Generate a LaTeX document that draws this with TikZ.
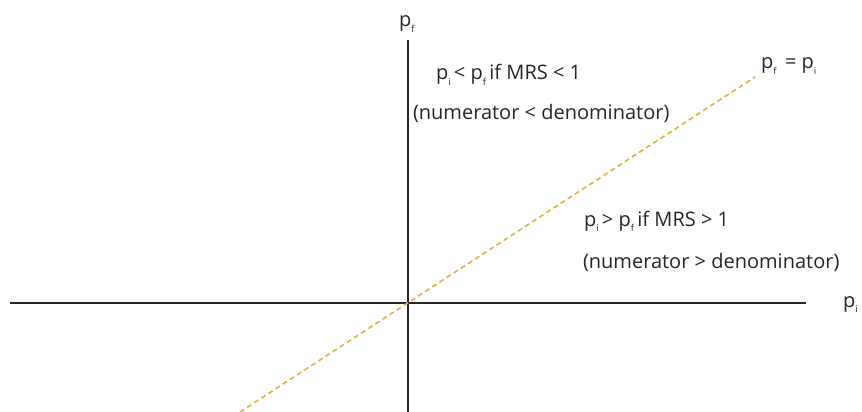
\documentclass[tikz,border=0pt]{standalone}
\usepackage{fontspec}
\setmainfont{Open Sans}
\newcommand{\sbt}[1]{\raisebox{-0.55ex}{\fontsize{9.5}{9.5}\selectfont #1}}
\definecolor{axisc}{HTML}{262626}
\definecolor{diagc}{HTML}{E6B23C}
\begin{document}
\begin{tikzpicture}[x=1pt,y=-1pt,
  axis/.style={draw=axisc,line width=1.5pt},
  diag/.style={draw=diagc,line width=1.6pt,dash pattern=on 5pt off 3.5pt},
  lbl/.style={inner sep=0pt,outer sep=0pt,anchor=base west,font=\fontsize{20}{22}\selectfont,text=axisc}]
\useasboundingbox (0,0) rectangle (862,412);
\coordinate (xl) at (10,303);
\coordinate (xr) at (806,303);
\coordinate (yt) at (408,40);
\coordinate (yb) at (408,412);
\coordinate (dl) at (240,412);
\coordinate (dr) at (755,77);
\draw[axis] (xl) -- (xr);
\draw[axis] (yt) -- (yb);
\draw[diag] (dl) -- (dr);
\node[lbl] (pf) at (399,27) {p\sbt{f}};
\node[lbl] (pi) at (843,307) {p\sbt{i}};
\node[lbl] (eq) at (761,69) {p\sbt{f}\ \,= p\sbt{i}};
\node[lbl] (l1) at (436,80) {p\sbt{i}\,< p\sbt{f}\,if MRS < 1};
\node[lbl] (l2) at (413,119) {(numerator < denominator)};
\node[lbl] (l3) at (584,226) {p\sbt{i}\,> p\sbt{f}\,if MRS > 1};
\node[lbl] (l4) at (583,268) {(numerator > denominator)};
\end{tikzpicture}
\end{document}
